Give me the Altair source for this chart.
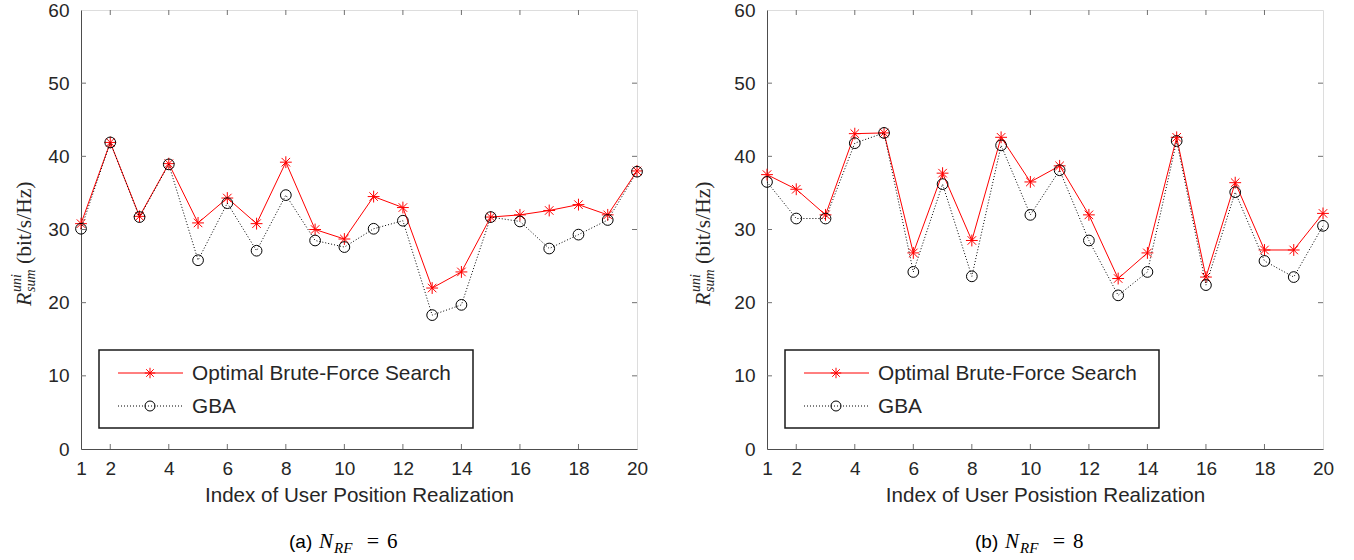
import altair as alt
import pandas as pd

# ---------------- data ----------------
INDEX = list(range(1, 21))
OPT_A = [30.8, 41.9, 31.8, 39.0, 30.9, 34.3, 30.8, 39.2, 30.0, 28.7,
         34.5, 33.0, 22.0, 24.2, 31.7, 32.0, 32.6, 33.4, 32.0, 38.0]
GBA_A = [30.1, 41.9, 31.7, 38.9, 25.8, 33.6, 27.1, 34.7, 28.5, 27.6,
         30.1, 31.2, 18.3, 19.7, 31.7, 31.1, 27.4, 29.3, 31.3, 37.9]
OPT_B = [37.5, 35.5, 32.0, 43.1, 43.2, 26.8, 37.7, 28.5, 42.6, 36.5,
         38.7, 32.0, 23.3, 26.8, 42.6, 23.5, 36.4, 27.2, 27.2, 32.2]
GBA_B = [36.5, 31.5, 31.5, 41.8, 43.2, 24.2, 36.2, 23.6, 41.5, 32.0,
         38.1, 28.5, 21.0, 24.2, 42.1, 22.4, 35.1, 25.7, 23.5, 30.5]

X_LABELS = [1, 2, 4, 6, 8, 10, 12, 14, 16, 18, 20]
X_TICKS = [2, 4, 6, 8, 10, 12, 14, 16, 18]
Y_LABELS = [0, 10, 20, 30, 40, 50, 60]
Y_TICKS = [10, 20, 30, 40, 50]
SERIES = ["Optimal Brute-Force Search", "GBA"]
X_TITLES = ["Index of User Position Realization", "Index of User Posistion Realization"]
CAPTIONS = [("(a)", "6"), ("(b)", "8")]

# ---------------- style ----------------
W, H = 556, 439
SANS = "Liberation Sans"
SERIF = "Liberation Serif"
TXT = "#262626"
RED = "#ff0000"
TICK = "#707070"
STAR = "M-1,0L1,0M0,-1L0,1M-0.72,-0.72L0.72,0.72M-0.72,0.72L0.72,-0.72"

one = pd.DataFrame({"k": [0]})


def panel(opt, gba, xtitle, letter, num, ydx):
    df = pd.DataFrame({"idx": INDEX, "opt": opt, "gba": gba})
    xs = alt.Scale(domain=[1, 20], nice=False, zero=False)
    ys = alt.Scale(domain=[0, 60], nice=False, zero=False)
    xaxis = alt.Axis(values=X_LABELS, title=xtitle, ticks=False, grid=False,
                     labelFont=SANS, labelFontSize=19, labelColor=TXT,
                     labelPadding=10, labelOverlap=False, labelFlush=False,
                     titleFont=SANS, titleFontSize=20.6, titleFontWeight="normal",
                     titleColor=TXT, titlePadding=7,
                     domainColor="#4d4d4d", domainWidth=1)
    yaxis = alt.Axis(values=Y_LABELS, title=None, ticks=False, grid=False,
                     labelFont=SANS, labelFontSize=19, labelColor=TXT,
                     labelPadding=12, labelOverlap=False, labelFlush=False,
                     domainColor="#4d4d4d", domainWidth=1)

    opt_line = alt.Chart(df).mark_line(color=RED, strokeWidth=1).encode(
        x=alt.X("idx:Q", scale=xs, axis=xaxis),
        y=alt.Y("opt:Q", scale=ys, axis=yaxis))
    opt_pts = alt.Chart(df).mark_point(shape=STAR, size=140, color=RED, filled=False,
                                       strokeWidth=1, opacity=1).encode(
        x=alt.X("idx:Q", scale=xs), y=alt.Y("opt:Q", scale=ys))
    gba_line = alt.Chart(df).mark_line(color="black", strokeWidth=1,
                                       strokeDash=[1, 2]).encode(
        x=alt.X("idx:Q", scale=xs), y=alt.Y("gba:Q", scale=ys))
    gba_pts = alt.Chart(df).mark_point(shape="circle", size=115, color="black",
                                       filled=False, strokeWidth=1, opacity=1).encode(
        x=alt.X("idx:Q", scale=xs), y=alt.Y("gba:Q", scale=ys))

    xt = pd.DataFrame({"t": X_TICKS})
    yt = pd.DataFrame({"t": Y_TICKS})
    tb = alt.Chart(xt).mark_rule(color=TICK, strokeWidth=1).encode(
        x=alt.X("t:Q", scale=xs), y=alt.value(H), y2=alt.value(H - 5))
    tt = alt.Chart(xt).mark_rule(color=TICK, strokeWidth=1).encode(
        x=alt.X("t:Q", scale=xs), y=alt.value(0), y2=alt.value(5))
    tl = alt.Chart(yt).mark_rule(color=TICK, strokeWidth=1).encode(
        y=alt.Y("t:Q", scale=ys), x=alt.value(0), x2=alt.value(5))
    tr = alt.Chart(yt).mark_rule(color=TICK, strokeWidth=1).encode(
        y=alt.Y("t:Q", scale=ys), x=alt.value(W), x2=alt.value(W - 5))

    # legend
    box = alt.Chart(one).mark_rect(fill="white", stroke="#1a1a1a", strokeWidth=1.5).encode(
        x=alt.value(18), x2=alt.value(392), y=alt.value(340), y2=alt.value(418))
    l1 = alt.Chart(one).mark_rule(color=RED, strokeWidth=1).encode(
        x=alt.value(37), x2=alt.value(102), y=alt.value(363))
    p1 = alt.Chart(one).mark_point(shape=STAR, size=110, color=RED, filled=False,
                                   strokeWidth=1, opacity=1).encode(
        x=alt.value(69), y=alt.value(363))
    l2 = alt.Chart(one).mark_rule(color="black", strokeWidth=1, strokeDash=[1, 2]).encode(
        x=alt.value(37), x2=alt.value(102), y=alt.value(396))
    p2 = alt.Chart(one).mark_point(shape="circle", size=100, color="black", filled=False,
                                   strokeWidth=1, opacity=1).encode(
        x=alt.value(69), y=alt.value(396))
    t1 = alt.Chart(pd.DataFrame({"s": [SERIES[0]]})).mark_text(
        font=SANS, fontSize=20.8, color=TXT, align="left", baseline="middle").encode(
        text="s:N", x=alt.value(111), y=alt.value(364))
    t2 = alt.Chart(pd.DataFrame({"s": [SERIES[1]]})).mark_text(
        font=SANS, fontSize=20.8, color=TXT, align="left", baseline="middle").encode(
        text="s:N", x=alt.value(111), y=alt.value(397))

    # y title  R^{uni}_{sum} (bit/s/Hz), rotated
    def rot(txt, size, dx, y, italic=True):
        return alt.Chart(pd.DataFrame({"s": [txt]})).mark_text(
            font=SERIF, fontSize=size, fontStyle="italic" if italic else "normal",
            color=TXT, angle=270, align="left", baseline="alphabetic").encode(
            text="s:N", x=alt.value(ydx + dx), y=alt.value(y))
    yr = rot("R", 22, 0, 296)
    ysup = rot("uni", 14, -10, 282)
    ysub = rot("sum", 14, 4, 282)
    yunit = rot("(bit/s/Hz)", 21.5, 0, 254, italic=False)

    # caption
    def cap(txt, size, x, y, font, italic=False, align="left"):
        return alt.Chart(pd.DataFrame({"s": [txt]})).mark_text(
            font=font, fontSize=size, fontStyle="italic" if italic else "normal",
            color="black", align=align, baseline="alphabetic").encode(
            text="s:N", x=alt.value(x), y=alt.value(y))
    c1 = cap(letter, 19, 208, 538, SANS)
    c2 = cap("N", 21, 238, 538, SERIF, italic=True)
    c3 = cap("RF", 15, 253, 543, SERIF, italic=True)
    c4 = cap("=", 22, 292, 538, SERIF, align="center")
    c5 = cap(num, 21, 306, 538, SERIF)

    return alt.layer(opt_line, opt_pts, gba_line, gba_pts, tb, tt, tl, tr,
                     box, l1, p1, l2, p2, t1, t2, yr, ysup, ysub, yunit,
                     c1, c2, c3, c4, c5).properties(width=W, height=H)


left = panel(OPT_A, GBA_A, X_TITLES[0], CAPTIONS[0][0], CAPTIONS[0][1], -50)
right = panel(OPT_B, GBA_B, X_TITLES[1], CAPTIONS[1][0], CAPTIONS[1][1], -57)

chart = alt.hconcat(left, right, spacing=39).properties(
    padding={"left": 9, "top": 0, "right": 5, "bottom": 0}
).configure_view(stroke="#8a8a8a", strokeWidth=1).configure(background="white")

chart.save("out.html", embed_options={"renderer": "svg", "actions": False})
